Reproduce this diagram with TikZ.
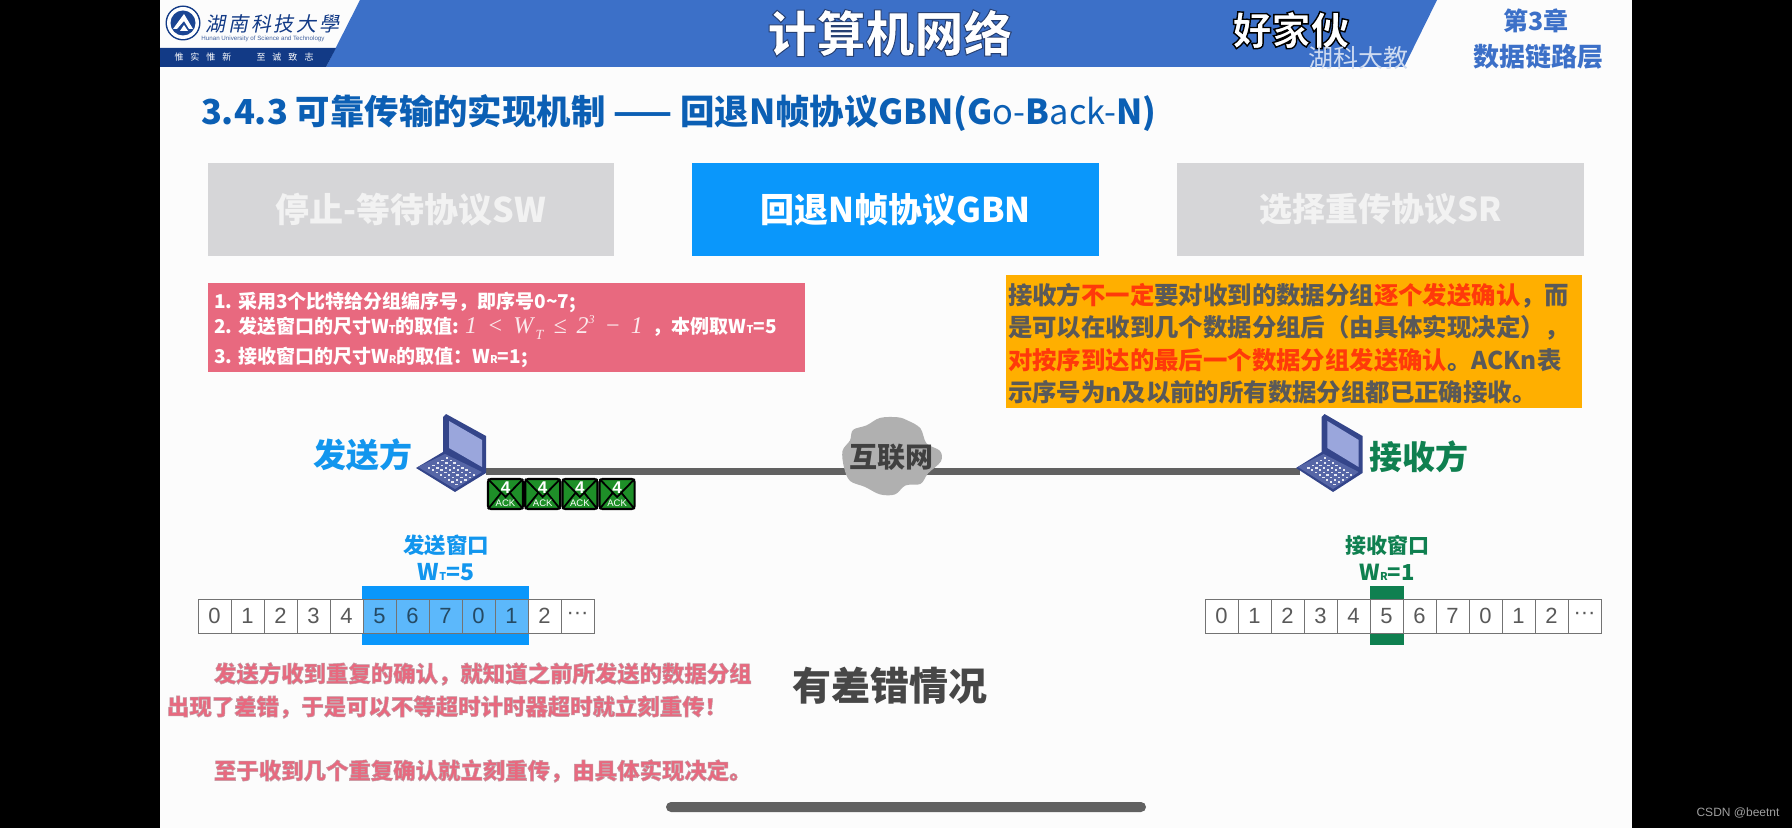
\documentclass[tikz,border=0pt]{standalone}
\usepackage{fontspec}
\setmainfont{Noto Sans CJK SC}
\newfontfamily\latf{Liberation Sans}
\newfontfamily\serf{Liberation Serif}
\definecolor{hdr}{HTML}{3C70C8}
\definecolor{navy}{HTML}{123A86}
\definecolor{ttl}{HTML}{0B5FB4}
\definecolor{gbox}{HTML}{D6D6D8}
\definecolor{gtx}{HTML}{F2F2F2}
\definecolor{bluebox}{HTML}{0A97FB}
\definecolor{lblue}{HTML}{5CB8FB}
\definecolor{pink}{HTML}{E8697F}
\definecolor{orangebox}{HTML}{FFAF00}
\definecolor{redt}{HTML}{FF3A0A}
\definecolor{dgt}{HTML}{595959}
\definecolor{sendc}{HTML}{1296EE}
\definecolor{recvc}{HTML}{0F8050}
\definecolor{lapd}{HTML}{34458A}
\definecolor{lapm}{HTML}{5666A6}
\definecolor{laps}{HTML}{9AA6DC}
\definecolor{envg}{HTML}{1E8F28}
\definecolor{cloudc}{HTML}{B0B0B0}
\newcommand{\px}[1]{\fontsize{\fpeval{#1/2}}{\fpeval{#1/2*1.2}}\selectfont}
\newcommand{\outl}[3]{\special{pdf:code 2 Tr #1 w #2 RG}#3\special{pdf:code 0 Tr}}
\newcommand{\lowT}[1]{{\fontsize{5.4}{6}\selectfont #1}}
\tikzset{
  txt/.style={inner sep=0,outer sep=0,align=center},
  ltxt/.style={inner sep=0,outer sep=0,anchor=west,align=left},
  cellbox/.style={draw=gray!90!black,line width=.45pt,minimum width=16.5pt,minimum height=17pt,inner sep=0,font=\latf\px{22},text=dgt},
  pbox/.style={draw=none,inner sep=0},
  pics/laptop/.style={code={
    \fill[lapd] (30,0) -- (70,22) -- (70,59) -- (39,78) -- (0,54) -- (27,38) -- (27,3) -- cycle;
    \fill[laps] (33,7) -- (66,26) -- (66,53) -- (33,34) -- cycle;
    \fill[lapm] (2,53) -- (29,40) -- (66,58) -- (39,75) -- cycle;
    \foreach \a in {0,...,4}\foreach \b in {0,...,7}
      \fill[white!85!lapm] ({12+\a*4.4+\b*3.9},{53-\a*2.4+\b*2.4}) rectangle ++(2.4,1.5);
  }}
}
\begin{document}
\begin{tikzpicture}[x=.5pt,y=-.5pt]
\useasboundingbox (0,0) rectangle (1792,828);
\fill[black] (0,0) rectangle (1792,828);
\fill[white!99!black] (160,0) rectangle (1632,828);
% header
\fill[hdr] (360,0) -- (1437,0) -- (1404,67) -- (326,67) -- cycle;
\fill[navy] (160,48) -- (336,48) -- (326,67) -- (160,67) -- cycle;
% emblem
\fill[navy] (183,23) circle (17.5);
\fill[white] (183,23) circle (16);
\fill[navy!80!hdr] (183,23) circle (12.5);
\fill[white] (173,29) -- (184,14) -- (193,29) -- (189,29) -- (184,21) -- (177,29) -- cycle;
\fill[white] (180,31) -- (184,25) -- (188,31) -- cycle;
\node[txt,text=navy,xslant=.2,transform shape] (logotxt) at (274,24) {\px{20}湖\kern1.4pt 南\kern1.4pt 科\kern1.4pt 技\kern1.4pt 大\kern1.4pt 學};
\node[txt,text=navy!80!white] (logoen) at (263,39) {\latf\px{6.2}Hunan University of Science and Technology};
\node[txt,text=white] (motto1) at (203,57) {\px{9}惟\kern3.5pt 实\kern3.5pt 惟\kern3.5pt 新};
\node[txt,text=white] (motto2) at (285,57) {\px{9}至\kern3.5pt 诚\kern3.5pt 致\kern3.5pt 志};
\node[txt,text=white] (maintitle) at (890,33) {\px{49}\bfseries\outl{0.5}{0.15 0.25 0.45}{计算机网络}};
\node[txt,text=white] (nick) at (1291,30) {\px{39}\bfseries\outl{0.7}{0 0 0}{好家伙}};
\node[txt,text=white!75!hdr] (sub) at (1358,58) {\px{25}湖科大教};
\node[txt,text=hdr] (chap) at (1536,21) {\px{25}\bfseries 第3章};
\node[txt,text=hdr] (chap2) at (1538,57) {\px{26}\bfseries 数据链路层};
% title
\node[ltxt,text=ttl] (head) at (201,113) {\px{34.4}\bfseries 3.4.3 可靠传输的实现机制 —— 回退N帧协议GBN(G{\mdseries o-}B{\mdseries ack-}N)};
% three protocol boxes
\node[pbox,fill=gbox,minimum width=203pt,minimum height=46.5pt,text=gtx] (sw) at (411,209.5) {\raisebox{-1pt}{\px{34}\bfseries 停止-等待协议SW}};
\node[pbox,fill=bluebox,minimum width=203.5pt,minimum height=46.5pt,text=white] (gbn) at (895.5,209.5) {\raisebox{-1pt}{\px{34}\bfseries 回退N帧协议GBN}};
\node[pbox,fill=gbox,minimum width=203.5pt,minimum height=46.5pt,text=gtx] (sr) at (1380.5,209.5) {\raisebox{-1pt}{\px{33}\bfseries 选择重传协议SR}};
% pink box
\node[pbox,fill=pink,minimum width=298.5pt,minimum height=44.5pt] (pinkb) at (506.5,327.5) {};
\node[ltxt,text=white] (p1) at (214,302) {\px{19}\bfseries 1. 采用3个比特给分组编序号，即序号0\textasciitilde 7;};
\node[ltxt,text=white] (p2) at (214,328) {\px{19}\bfseries 2. 发送窗口的尺寸W\lowT{T}的取值: {\mdseries\serf\itshape\px{24}\textcolor{white!85!pink}{1 \,<\, W\raisebox{-3pt}{\fontsize{7}{8}\selectfont\,T} \,≤\, 2\raisebox{5pt}{\fontsize{6}{7}\selectfont 3} \,−\, 1}}\kern5pt，本例取W\lowT{T}=5};
\node[ltxt,text=white] (p3) at (214,357) {\px{19}\bfseries 3. 接收窗口的尺寸W\lowT{R}的取值：W\lowT{R}=1;};
% orange box
\node[pbox,fill=orangebox,minimum width=288pt,minimum height=66.5pt] (orangeb) at (1294,341.5) {};
\node[ltxt,text=dgt] (o1) at (1008,296) {\px{24.4}\bfseries 接收方\textcolor{redt}{不一定}要对收到的数据分组\textcolor{redt}{逐个发送确认}，而};
\node[ltxt,text=dgt] (o2) at (1008,328) {\px{24.4}\bfseries 是可以在收到几个数据分组后（由具体实现决定），};
\node[ltxt,text=dgt] (o3) at (1008,360) {\px{24.4}\bfseries \textcolor{redt}{对按序到达的最后一个数据分组发送确认}。ACKn表};
\node[ltxt,text=dgt] (o4) at (1008,392) {\px{24.4}\bfseries 示序号为n及以前的所有数据分组都已正确接收。};
% network
\coordinate (senderpt) at (486,471);
\coordinate (recvpt) at (1300,471);
\draw[line width=3.5pt,black!62] (senderpt) -- (recvpt);
\pic at (416,414) {laptop};
\pic[xscale=.95] at (1296,414) {laptop};
\begin{scope}[shift={(892,456)},x=.15pt,y=-.15pt]
\fill[cloudc] plot[smooth cycle,tension=.55] coordinates {(-165,-17)(-140,-52)(-130,-87)(-85,-102)(-40,-127)(20,-129)(55,-117)(95,-92)(115,-42)(160,-17)(163,18)(120,58)(95,93)(45,98)(10,128)(-40,128)(-90,103)(-140,83)(-160,38)};
\end{scope}
\node[txt,text=black!75] (cloudt) at (891,457) {\px{28}\bfseries 互联网};
\node[txt,text=sendc] (sendl) at (363,455) {\px{33}\bfseries 发送方};
\node[txt,text=recvc] (recvl) at (1419,457) {\px{33}\bfseries 接收方};
% envelopes
\foreach \i in {0,1,2,3}{
  \begin{scope}[shift={({487+\i*37.2},478)}]
    \draw[black,fill=envg,line width=1.1pt,rounded corners=1.5pt] (1,1) rectangle (36,31);
    \draw[black,line width=.9pt] (1,1) -- (18.5,19) -- (36,1) (1,31) -- (14,15) (36,31) -- (23,15);
    \node[txt,text=white] (env\i) at (18.5,10) {\latf\px{17}\bfseries 4};
    \node[txt,text=white] (ack\i) at (18.5,25) {\latf\px{9.5}ACK};
  \end{scope}
}
% windows
\fill[bluebox] (362,586) rectangle (529,645);
\fill[recvc] (1370,586) rectangle (1404,645);
\node[txt,text=sendc] (wl1) at (446,545) {\px{21.5}\bfseries 发送窗口};
\node[txt,text=sendc] (wl2) at (446,572) {\px{23}\bfseries W\lowT{T}=5};
\node[txt,text=recvc] (wr1) at (1387,545) {\px{21}\bfseries 接收窗口};
\node[txt,text=recvc] (wr2) at (1387,572) {\px{22}\bfseries W\lowT{R}=1};
\foreach \i/\t in {0/0,1/1,2/2,3/3,4/4,10/2}
  \node[cellbox,fill=white] (s\i) at ({214.5+\i*33},616) {\t};
\foreach \i/\t in {5/5,6/6,7/7,8/0,9/1}
  \node[cellbox,fill=lblue,text=black!60!lblue] (s\i) at ({214.5+\i*33},616) {\t};
\node[cellbox,fill=white] (s11) at ({214.5+11*33},616) {\raisebox{-1pt}{···}};
\foreach \i/\t in {0/0,1/1,2/2,3/3,4/4,5/5,6/6,7/7,8/0,9/1,10/2}
  \node[cellbox,fill=white] (r\i) at ({1221.5+\i*33},616) {\t};
\node[cellbox,fill=white] (r11) at ({1221.5+11*33},616) {\raisebox{-1pt}{···}};
% notes
\node[txt,text=black!72] (err) at (890,686) {\px{39}\bfseries 有差错情况};
\node[ltxt,text=pink] (n1) at (214,674) {\px{22.4}\bfseries\outl{0.25}{0.75 0.62 0.65}{发送方收到重复的确认，就知道之前所发送的数据分组}};
\node[ltxt,text=pink] (n2) at (167,707) {\px{22.4}\bfseries\outl{0.25}{0.75 0.62 0.65}{出现了差错，于是可以不等超时计时器超时就立刻重传！}};
\node[ltxt,text=pink] (n3) at (214,771) {\px{22.4}\bfseries\outl{0.25}{0.75 0.62 0.65}{至于收到几个重复确认就立刻重传，由具体实现决定。}};
% scrollbar and watermark
\fill[black!62,rounded corners=2.5pt] (666,802) rectangle (1146,812);
\node[txt,text=gray!75] (wm) at (1738,813) {\latf\px{12}CSDN @beetnt};
\end{tikzpicture}
\end{document}
